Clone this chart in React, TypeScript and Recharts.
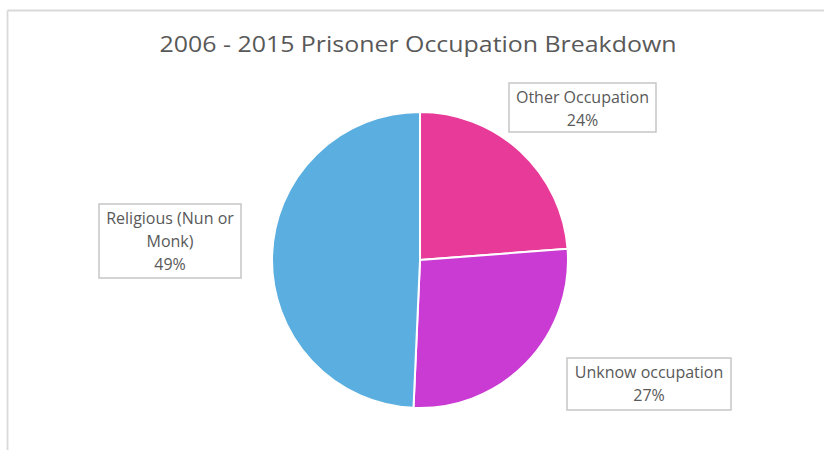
import React from "react";
import { PieChart, Pie, Cell } from "recharts";

const CATEGORIES = ["Other Occupation", "Unknow occupation", "Religious (Nun or Monk)"];
const VALUES = [23.8, 26.9, 49.3];
const LABEL_LINES = [["Other Occupation"], ["Unknow occupation"], ["Religious (Nun or", "Monk)"]];
const COLORS = ["#E83A98", "#CA3BD4", "#5AAEE0"];
const TITLE = "2006 - 2015 Prisoner Occupation Breakdown";

const data = CATEGORIES.map((name, i) => ({ name, value: VALUES[i] }));
const total = VALUES.reduce((a, b) => a + b, 0);

// label box layout relative to pie centre: [dx, dy, width, height]
const LABEL_LAYOUT = [
  [89, -177, 147, 49],
  [147, 98, 164, 52],
  [-321, -56, 142, 74],
];

const TEXT_COLOR = "#595959";

const renderLabel = (props: any) => {
  const { cx, cy, index, value } = props;
  const [dx, dy, w, h] = LABEL_LAYOUT[index];
  const x = cx + dx;
  const y = cy + dy;
  const lines = [...LABEL_LINES[index], `${Math.round((value / total) * 100)}%`];
  const lineH = 23;
  const firstBase = y + 19.5;
  return (
    <g key={`lbl-${index}`}>
      <rect x={x} y={y} width={w} height={h} fill="#FFFFFF" stroke="#C6C6C6" strokeWidth={1.5} />
      {lines.map((t, i) => (
        <text
          key={i}
          x={x + w / 2}
          y={firstBase + i * lineH}
          textAnchor="middle"
          fontFamily="'Open Sans', sans-serif"
          fontSize={16}
          fill={TEXT_COLOR}
        >
          {t}
        </text>
      ))}
    </g>
  );
};

export default function App() {
  return (
    <div style={{ position: "absolute", left: 0, top: 0, width: 824, height: 450, background: "#fff" }}>
      <PieChart width={824} height={450} margin={{ top: 0, right: 0, bottom: 0, left: 0 }}>
        <line x1={7.5} y1={10.5} x2={824} y2={10.5} stroke="#D9D9D9" strokeWidth={1.8} />
        <line x1={7.5} y1={10.5} x2={7.5} y2={450} stroke="#D9D9D9" strokeWidth={1.8} />
        <text
          x={418}
          y={52}
          textAnchor="middle"
          fontFamily="'Open Sans', sans-serif"
          fontSize={22}
          fill={TEXT_COLOR}
          textLength={517}
          lengthAdjust="spacingAndGlyphs"
        >
          {TITLE}
        </text>
        <Pie
          data={data}
          dataKey="value"
          nameKey="name"
          cx={420}
          cy={260}
          outerRadius={148}
          startAngle={90}
          endAngle={-270}
          stroke="#FFFFFF"
          strokeWidth={2}
          label={renderLabel}
          labelLine={false}
          isAnimationActive={false}
        >
          {data.map((d, i) => (
            <Cell key={d.name} fill={COLORS[i]} />
          ))}
        </Pie>
      </PieChart>
    </div>
  );
}
